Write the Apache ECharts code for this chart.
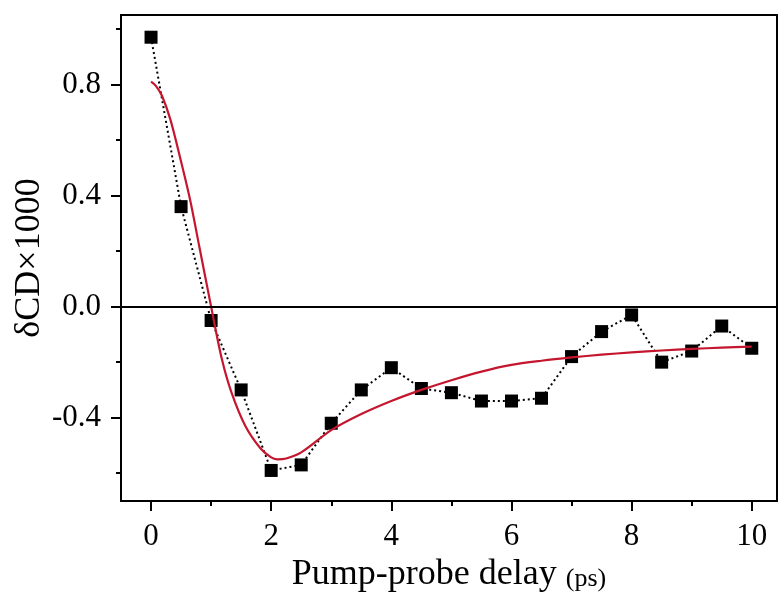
<!DOCTYPE html>
<html>
<head>
<meta charset="utf-8">
<script src="https://cdn.jsdelivr.net/npm/echarts@6/dist/echarts.min.js"></script>
<style>
html,body{margin:0;padding:0;background:#fff;}
#chart{width:779px;height:595px;}
</style>
</head>
<body>
<div id="chart"></div>
<script>
// Measured points (delay in ps, δCD×1000)
var delayX = [0, 0.5, 1.0, 1.5, 2.0, 2.5, 3.0, 3.5, 4.0, 4.5, 5.0, 5.5, 6.0, 6.5, 7.0, 7.5, 8.0, 8.5, 9.0, 9.5, 10.0];
var signalY = [0.97, 0.36, -0.05, -0.30, -0.59, -0.57, -0.42, -0.30, -0.22, -0.295, -0.31, -0.34, -0.34, -0.33, -0.18, -0.09, -0.03, -0.20, -0.16, -0.07, -0.15];
// Fit curve
var fitX = [0, 0.08, 0.18, 0.32, 0.48, 0.65, 0.8, 1.0, 1.18, 1.34, 1.57, 1.82, 2.0, 2.1, 2.25, 2.5, 3.0, 3.5, 4.0, 4.5, 5.0, 5.5, 6.0, 6.5, 7.0, 7.5, 8.0, 8.5, 9.0, 9.5, 10.0];
var fitY = [0.81, 0.795, 0.76, 0.675, 0.54, 0.385, 0.22, 0.0, -0.19, -0.31, -0.43, -0.51, -0.543, -0.55, -0.547, -0.525, -0.445, -0.387, -0.34, -0.30, -0.265, -0.234, -0.21, -0.195, -0.183, -0.173, -0.165, -0.158, -0.152, -0.148, -0.144];
// Axis ticks
var xLabelTicks = [0, 2, 4, 6, 8, 10];
var xMinorTicks = [1, 3, 5, 7, 9];
var yLabelTicks = [-0.4, 0, 0.4, 0.8];
var yMinorTicks = [-0.6, -0.2, 0.2, 0.6, 1.0];
var xTitle = 'Pump-probe delay';
var xUnit = '(ps)';
var yTitle = 'δCD×1000';

function pairs(xs, ys){ return xs.map(function(x,i){ return [x, ys[i]]; }); }

var FONT = 'Liberation Serif';
var chart = echarts.init(document.getElementById('chart'));
var X_MIN = -0.5, X_MAX = 10.42, Y_MIN = -0.7, Y_MAX = 1.05;

chart.setOption({
  animation: false,
  backgroundColor: '#fff',
  grid: { left: 121, top: 15, right: 2, bottom: 94, show: true, borderColor: '#000', borderWidth: 2, backgroundColor: 'transparent', containLabel: false, outerBoundsMode: 'none' },
  graphic: [{
    type: 'text', x: 30, y: 258, rotation: Math.PI / 2, silent: true,
    style: { text: yTitle, fill: '#000', font: '36px "Liberation Serif"', textAlign: 'center', textVerticalAlign: 'middle', verticalAlign: 'middle', align: 'center' }
  }],
  xAxis: [{
    type: 'value', min: X_MIN, max: X_MAX, position: 'bottom',
    axisLine: { show: true, onZero: false, lineStyle: { color: '#000', width: 2 } },
    axisTick: { show: true, inside: false, length: 10, customValues: xLabelTicks, lineStyle: { color: '#000', width: 2 } },
    axisLabel: { show: true, customValues: xLabelTicks, margin: 20, color: '#000', fontFamily: FONT, fontSize: 31, formatter: function(v){ return String(Math.round(v)); } },
    splitLine: { show: false },
    name: '{a|' + xTitle + ' }{b|' + xUnit + '}', nameLocation: 'middle', nameGap: 56, nameMoveOverlap: false,
    nameTextStyle: { rich: { a: { fontFamily: FONT, fontSize: 36, color: '#000' }, b: { fontFamily: FONT, fontSize: 26, color: '#000', padding: [8,0,0,0] } } }
  }, {
    type: 'value', min: X_MIN, max: X_MAX, position: 'bottom', offset: 0,
    axisLine: { show: false, onZero: false },
    axisTick: { show: true, inside: false, length: 5, customValues: xMinorTicks, lineStyle: { color: '#000', width: 2 } },
    axisLabel: { show: false }, splitLine: { show: false }
  }],
  yAxis: [{
    type: 'value', min: Y_MIN, max: Y_MAX, position: 'left',
    axisLine: { show: true, onZero: false, lineStyle: { color: '#000', width: 2 } },
    axisTick: { show: true, inside: false, length: 10, customValues: yLabelTicks, lineStyle: { color: '#000', width: 2 } },
    axisLabel: { show: true, customValues: yLabelTicks, margin: 20, color: '#000', fontFamily: FONT, fontSize: 31, formatter: function(v){ return v.toFixed(1); } },
    splitLine: { show: false }
  }, {
    type: 'value', min: Y_MIN, max: Y_MAX, position: 'left', offset: 0,
    axisLine: { show: false, onZero: false },
    axisTick: { show: true, inside: false, length: 5, customValues: yMinorTicks, lineStyle: { color: '#000', width: 2 } },
    axisLabel: { show: false }, splitLine: { show: false }
  }],
  series: [{
    type: 'line', xAxisIndex: 0, yAxisIndex: 0,
    data: pairs(delayX, signalY),
    symbol: 'rect', symbolSize: 13,
    itemStyle: { color: '#000' },
    lineStyle: { color: '#000', width: 2, type: [2, 3] },
    z: 3,
    markLine: {
      silent: true, symbol: 'none', label: { show: false },
      lineStyle: { color: '#000', width: 2, type: 'solid' },
      data: [{ yAxis: 0 }]
    }
  }, {
    type: 'line', xAxisIndex: 0, yAxisIndex: 0,
    data: pairs(fitX, fitY),
    smooth: 0.3, showSymbol: false, symbol: 'none',
    lineStyle: { color: '#c4172f', width: 2.2 },
    z: 4
  }]
});
</script>
</body>
</html>
